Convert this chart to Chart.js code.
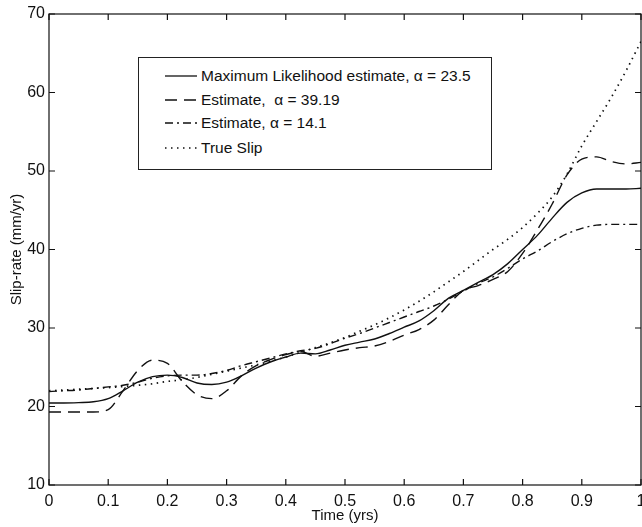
<!DOCTYPE html>
<html>
<head>
<meta charset="utf-8">
<script src="https://cdn.jsdelivr.net/npm/chart.js@4"></script>
<style>
  html, body { margin: 0; padding: 0; background: #fff; overflow: hidden; }
  #wrap { position: relative; width: 642px; height: 527px; }
  #chart { position: absolute; left: 0; top: 0; }
  #legend {
    position: absolute; left: 138px; top: 57px; width: 352px; height: 111px;
    border: 1px solid #222; background: #fff;
    font-family: 'Liberation Sans', Arial, Helvetica, sans-serif; font-size: 15.5px; color: #111;
  }
  .row { position: absolute; left: 26px; height: 20px; display: flex; align-items: center; white-space: pre; }
  .row svg { width: 32px; height: 6px; margin-right: 4px; }
</style>
</head>
<body>
<div id="wrap">
  <canvas id="chart" width="642" height="527"></canvas>
  <div id="legend"></div>
</div>
<script>
// ── Datos ──────────────────────────────────────────────────────────────────
const timeYrs = [
  0, 0.025, 0.05, 0.075, 0.1, 0.125, 0.15, 0.175, 0.2, 0.225,
  0.25, 0.275, 0.3, 0.325, 0.35, 0.375, 0.4, 0.425, 0.45, 0.475,
  0.5, 0.525, 0.55, 0.575, 0.6, 0.625, 0.65, 0.675, 0.7, 0.725,
  0.75, 0.775, 0.8, 0.825, 0.85, 0.875, 0.9, 0.925, 0.95, 0.975, 1
];

const mlEstimate = [
  20.45, 20.45, 20.5, 20.6, 21.0, 22.0, 23.1, 23.8, 24.0, 23.7,
  23.0, 22.8, 23.1, 23.9, 24.9, 25.7, 26.3, 26.8, 26.7, 27.2,
  27.8, 28.2, 28.6, 29.3, 30.1, 30.9, 32.2, 33.8, 34.8, 35.8,
  36.8, 38.2, 40.0, 41.8, 44.0, 46.0, 47.2, 47.7, 47.7, 47.7, 47.8
];

const estAlpha39 = [
  19.3, 19.3, 19.3, 19.3, 19.6, 22.0, 24.6, 25.9, 25.5, 23.2,
  21.5, 21.0, 22.0, 23.9, 25.2, 26.0, 26.6, 27.0, 26.4, 26.8,
  27.2, 27.5, 27.7, 28.3, 29.1, 29.8, 31.0, 33.0, 34.8, 35.4,
  36.2, 37.2, 39.5, 42.5, 45.8, 49.5, 51.5, 51.8, 51.2, 50.9, 51.1
];

const estAlpha14 = [
  21.9, 22.0, 22.1, 22.3, 22.5, 22.7, 23.1, 23.6, 23.9, 24.0,
  24.0, 24.2, 24.6, 25.2, 25.7, 26.2, 26.7, 27.1, 27.4, 28.0,
  28.7, 29.3, 30.0, 30.7, 31.4, 32.1, 32.8, 33.7, 34.7, 35.7,
  36.5, 37.6, 38.8, 39.8, 41.0, 42.0, 42.7, 43.1, 43.2, 43.2, 43.2
];

const trueSlip = [
  22.0, 22.1, 22.2, 22.3, 22.4, 22.55, 22.7, 22.9, 23.2, 23.4,
  23.7, 24.1, 24.5, 24.9, 25.3, 25.8, 26.3, 26.9, 27.5, 28.1,
  28.8, 29.6, 30.4, 31.3, 32.3, 33.4, 34.6, 35.9, 37.2, 38.6,
  40.0, 41.3, 42.8, 44.6, 46.7, 49.6, 53.2, 56.3, 59.4, 62.8, 66.5
];

const seriesLabels = [
  'Maximum Likelihood estimate, \u03b1 = 23.5',
  'Estimate,  \u03b1 = 39.19',
  'Estimate, \u03b1 = 14.1',
  'True Slip',
];
const seriesDash = [[], [12, 7], [8, 4, 2, 4], [1.5, 4.5]];

// ── Utils ──────────────────────────────────────────────────────────────────
const INK = '#111';
const FONT = "'Liberation Sans', Arial, Helvetica, sans-serif";
const pts = ys => timeYrs.map((t, i) => ({ x: t, y: ys[i] }));

// marco + ticks hacia adentro en los cuatro lados (estilo MATLAB)
const frameTicks = {
  id: 'frameTicks',
  afterDraw(chart) {
    const { ctx, chartArea: a, scales: { x, y } } = chart;
    const L = 6;
    ctx.save();
    ctx.strokeStyle = INK;
    ctx.lineWidth = 1.2;
    ctx.strokeRect(a.left, a.top, a.right - a.left, a.bottom - a.top);
    ctx.beginPath();
    x.ticks.forEach(t => {
      const px = x.getPixelForValue(t.value);
      ctx.moveTo(px, a.bottom); ctx.lineTo(px, a.bottom - L);
      ctx.moveTo(px, a.top);    ctx.lineTo(px, a.top + L);
    });
    y.ticks.forEach(t => {
      const py = y.getPixelForValue(t.value);
      ctx.moveTo(a.left, py);  ctx.lineTo(a.left + L, py);
      ctx.moveTo(a.right, py); ctx.lineTo(a.right - L, py);
    });
    ctx.stroke();
    ctx.restore();
  }
};

// ── Gráfico ────────────────────────────────────────────────────────────────
const allSeries = [mlEstimate, estAlpha39, estAlpha14, trueSlip];

new Chart(document.getElementById('chart'), {
  type: 'line',
  data: {
    datasets: allSeries.map((ys, i) => ({
      label: seriesLabels[i],
      data: pts(ys),
      borderColor: INK,
      borderWidth: i === 3 ? 1.7 : 1.4,
      borderDash: seriesDash[i],
      pointRadius: 0,
      cubicInterpolationMode: 'monotone',
      fill: false,
    })),
  },
  options: {
    responsive: false,
    animation: false,
    devicePixelRatio: 1,
    layout: { padding: { top: 14, right: 1, left: 0, bottom: 0 } },
    plugins: { legend: { display: false }, tooltip: { enabled: false } },
    scales: {
      x: {
        type: 'linear', min: 0, max: 1,
        grid: { display: false, drawTicks: false },
        border: { display: false },
        ticks: {
          stepSize: 0.1, maxRotation: 0, padding: 7, color: INK,
          font: { family: FONT, size: 16 },
          callback: v => (v === 0 || v === 1) ? String(v) : v.toFixed(1),
        },
        title: {
          display: true, text: 'Time (yrs)', color: INK,
          font: { family: FONT, size: 15 }, padding: { top: 0, bottom: 2 },
        },
        afterFit: s => { s.height = 42; s.paddingLeft = 0; s.paddingRight = 0; },
      },
      y: {
        min: 10, max: 70,
        grid: { display: false, drawTicks: false },
        border: { display: false },
        ticks: { stepSize: 10, padding: 4, color: INK, font: { family: FONT, size: 16 } },
        title: {
          display: true, text: 'Slip-rate (mm/yr)', color: INK,
          font: { family: FONT, size: 15 }, padding: { top: 8, bottom: 0 },
        },
        afterFit: s => { s.width = 49; s.paddingTop = 0; s.paddingBottom = 0; },
      },
    },
  },
  plugins: [frameTicks],
});

// ── Leyenda ────────────────────────────────────────────────────────────────
const rowCenters = [18, 42, 65, 90];
document.getElementById('legend').innerHTML = seriesLabels.map((lab, i) => `
  <div class="row" style="top:${rowCenters[i] - 10}px">
    <svg viewBox="0 0 32 6"><line x1="0" y1="3" x2="32" y2="3" stroke="${INK}" stroke-width="1.3"
      stroke-dasharray="${seriesDash[i].join(' ') || 'none'}"/></svg>
    <span>${lab}</span>
  </div>`).join('');
</script>
</body>
</html>
